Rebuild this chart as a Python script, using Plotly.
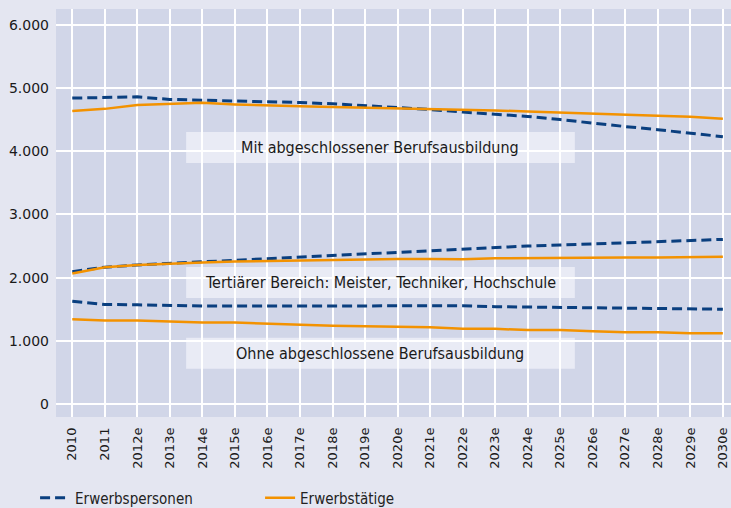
import plotly.graph_objects as go

years = ["2010", "2011", "2012e", "2013e", "2014e", "2015e", "2016e", "2017e", "2018e", "2019e",
         "2020e", "2021e", "2022e", "2023e", "2024e", "2025e", "2026e", "2027e", "2028e", "2029e", "2030e"]

# Mit abgeschlossener Berufsausbildung
mit_personen = [4840, 4850, 4860, 4820, 4810, 4800, 4790, 4770, 4750, 4720, 4700,
                4660, 4620, 4590, 4550, 4500, 4440, 4390, 4340, 4290, 4230]
mit_taetige = [4636, 4670, 4730, 4747, 4765, 4740, 4720, 4710, 4700, 4690, 4685,
               4670, 4655, 4645, 4630, 4610, 4595, 4580, 4560, 4545, 4515]

# Tertiärer Bereich
ter_personen = [2095, 2165, 2200, 2225, 2250, 2280, 2310, 2335, 2360, 2385, 2400,
                2430, 2450, 2480, 2500, 2515, 2535, 2555, 2575, 2590, 2605]
ter_taetige = [2065, 2165, 2200, 2225, 2240, 2255, 2265, 2275, 2285, 2290, 2295,
               2295, 2290, 2305, 2310, 2320, 2320, 2320, 2320, 2330, 2330]

# Ohne abgeschlossene Berufsausbildung
ohne_personen = [1625, 1575, 1570, 1555, 1550, 1550, 1550, 1550, 1550, 1550, 1555,
                 1555, 1555, 1540, 1535, 1530, 1520, 1520, 1515, 1500, 1500]
ohne_taetige = [1340, 1322, 1320, 1300, 1290, 1290, 1270, 1255, 1240, 1230, 1225,
                1215, 1190, 1190, 1170, 1170, 1150, 1135, 1135, 1120, 1120]

y_ticks = [0, 1000, 2000, 3000, 4000, 5000, 6000]

labels = ["Mit abgeschlossener Berufsausbildung",
          "Tertiärer Bereich: Meister, Techniker, Hochschule",
          "Ohne abgeschlossene Berufsausbildung"]
label_y = [4058, 1923, 805]
box_half = 245

BLUE = "#0a3f7f"
ORANGE = "#f39200"
x = list(range(len(years)))

fig = go.Figure()
series = [(mit_personen, mit_taetige), (ter_personen, ter_taetige), (ohne_personen, ohne_taetige)]
for i, (p, t) in enumerate(series):
    fig.add_trace(go.Scatter(x=x, y=p, mode="lines", name="Erwerbspersonen",
                             legendgroup="p", showlegend=(i == 0),
                             line=dict(color=BLUE, width=3, dash="10px,5px")))
for i, (p, t) in enumerate(series):
    fig.add_trace(go.Scatter(x=x, y=t, mode="lines", name="Erwerbstätige",
                             legendgroup="t", showlegend=(i == 0),
                             line=dict(color=ORANGE, width=2.5)))

for txt, yc in zip(labels, label_y):
    fig.add_shape(type="rect", xref="x", yref="y", x0=3.5, x1=15.45,
                  y0=yc - box_half, y1=yc + box_half,
                  fillcolor="rgba(240,242,250,0.75)", line=dict(width=0), layer="below")
    fig.add_annotation(x=9.475, y=yc, xref="x", yref="y", text=txt, showarrow=False,
                       font=dict(family="Liberation Sans Narrow, DejaVu Sans Condensed, sans-serif",
                                 size=16, color="#1a1a1a"))

fig.update_layout(
    width=731, height=508,
    margin=dict(l=56, r=0, t=9, b=91, autoexpand=False),
    paper_bgcolor="#e4e6f1",
    plot_bgcolor="#d1d6e8",
    separators=",.",
    showlegend=True,
    legend=dict(orientation="h", x=-0.031, xanchor="left", y=-0.158, yanchor="top",
                entrywidth=180, entrywidthmode="pixels", bgcolor="rgba(0,0,0,0)",
                font=dict(family="Liberation Sans Narrow, DejaVu Sans Condensed, sans-serif",
                          size=15, color="#222")),
    xaxis=dict(tickmode="array", tickvals=x, ticktext=years, tickangle=-90,
               range=[-0.5, 20.25], showgrid=True, gridcolor="white", gridwidth=1.5,
               zeroline=False, ticks="", showline=False, automargin=False,
               ticklabelstandoff=7,
               tickfont=dict(family="DejaVu Sans", size=13, color="#1a1a1a")),
    yaxis=dict(tickmode="array", tickvals=y_ticks, tickformat=",d",
               range=[-205, 6250], showgrid=True, gridcolor="white", gridwidth=1.5,
               zeroline=False, ticks="", showline=False, ticklabelstandoff=6,
               automargin=False,
               tickfont=dict(family="DejaVu Sans", size=14, color="#1a1a1a")),
)

fig.write_html("out.html", config={"displayModeBar": False},
               post_script="document.body.style.margin='0';document.body.style.background='#e4e6f1';")
